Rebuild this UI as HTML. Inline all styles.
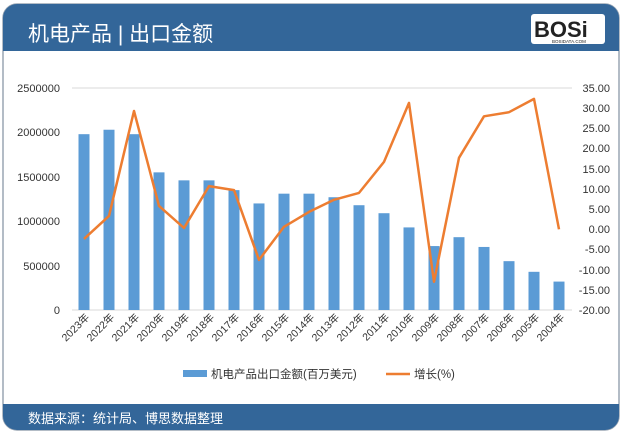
<!DOCTYPE html>
<html><head><meta charset="utf-8"><style>
html,body{margin:0;padding:0;background:#fff;width:622px;height:434px;overflow:hidden}
</style></head><body>
<svg width="622" height="434" xmlns="http://www.w3.org/2000/svg" font-family="Liberation Sans, Noto Sans CJK SC, sans-serif">
<rect x="3" y="4" width="616" height="426" rx="14" fill="#fff" stroke="#9aa6b4" stroke-width="1.5"/>
<path d="M3,18 a14,14 0 0 1 14,-14 h588 a14,14 0 0 1 14,14 v33 h-616z" fill="#336699"/>
<path d="M3,404 h616 v12 a14,14 0 0 1 -14,14 h-588 a14,14 0 0 1 -14,-14z" fill="#336699"/>
<text x="28" y="41" fill="#fff" font-size="21" font-family="Liberation Sans, Noto Sans CJK SC, sans-serif">机电产品 | 出口金额</text>
<text x="28" y="423" fill="#fff" font-size="13" font-family="Liberation Sans, Noto Sans CJK SC, sans-serif">数据来源：统计局、博思数据整理</text>
<rect x="531" y="14" width="74" height="30" rx="3" fill="#fff"/>
<text x="534" y="37" font-size="22" font-weight="bold" fill="#222" font-family="Liberation Sans, sans-serif">BOSi</text>
<text x="552" y="43" font-size="4.5" fill="#222">BOSIDATA.COM</text>
<g stroke="#d9d9d9" stroke-width="1">
<line x1="72" y1="88" x2="572" y2="88"/>
</g>
<line x1="72" y1="310" x2="572" y2="310" stroke="#d9d9d9"/>
<g font-size="11" fill="#333" text-anchor="end">
<text x="60" y="92">2500000</text><text x="60" y="136">2000000</text><text x="60" y="181">1500000</text><text x="60" y="225">1000000</text><text x="60" y="270">500000</text><text x="60" y="314">0</text>
</g>
<g font-size="11" fill="#333" text-anchor="end">
<text x="610" y="92">35.00</text><text x="610" y="112">30.00</text><text x="610" y="132">25.00</text><text x="610" y="152">20.00</text><text x="610" y="173">15.00</text><text x="610" y="193">10.00</text><text x="610" y="213">5.00</text><text x="610" y="233">0.00</text><text x="610" y="253">-5.00</text><text x="610" y="274">-10.00</text><text x="610" y="294">-15.00</text><text x="610" y="314">-20.00</text>
</g>
<g fill="#5b9bd5" id="bars"></g>
<polyline id="ln" fill="none" stroke="#ed7d31" stroke-width="2.5" stroke-linejoin="round"/>
<g id="xl" font-size="10.5" fill="#333"></g>
<rect x="183" y="370" width="24" height="7" fill="#5b9bd5"/>
<text x="211" y="378" font-size="11.5" fill="#333">机电产品出口金额(百万美元)</text>
<line x1="386" y1="374" x2="410" y2="374" stroke="#ed7d31" stroke-width="2.5"/>
<text x="414" y="378" font-size="11.5" fill="#333">增长(%)</text>
<script>
var b=[1.98,2.03,1.98,1.55,1.46,1.46,1.35,1.2,1.31,1.31,1.27,1.18,1.09,0.93,0.72,0.82,0.71,0.55,0.43,0.32];
var l=[-2.4,3.3,29.3,5.8,0.3,10.7,9.7,-7.6,0.6,4.3,7.3,9,16.7,31.3,-13,17.7,28,29,32.3,0];
var ns="http://www.w3.org/2000/svg",g=document.getElementById('bars'),x=document.getElementById('xl'),pts=[];
for(var i=0;i<20;i++){var c=84+i*25;var h=b[i]*88.8;
var r=document.createElementNS(ns,'rect');r.setAttribute('x',c-5.5);r.setAttribute('y',310-h);r.setAttribute('width',11);r.setAttribute('height',h);g.appendChild(r);
pts.push(c+','+(88+(35-l[i])*4.036).toFixed(1));
var t=document.createElementNS(ns,'text');t.setAttribute('transform','translate('+(c+6)+',318) rotate(-45)');t.setAttribute('text-anchor','end');t.textContent=(2023-i)+'年';x.appendChild(t);}
document.getElementById('ln').setAttribute('points',pts.join(' '));
</script>
</svg>
</body></html>
